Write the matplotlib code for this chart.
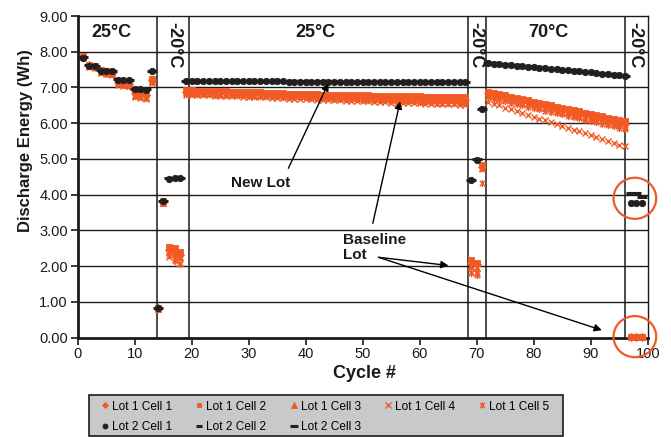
import matplotlib
matplotlib.use('Agg')
import matplotlib.pyplot as plt
from matplotlib.patches import Ellipse, Rectangle
from matplotlib.path import Path
from matplotlib.lines import Line2D
from matplotlib.ticker import FormatStrFormatter

plt.rcParams['font.family'] = ['Liberation Sans', 'DejaVu Sans']

# ---------------- data ----------------
cycles = list(range(1, 100))

# segments: 1-18 | 19-68 (25C) | 69-71 (-20C) | 72-96 (70C) | 97-99 (-20C)
lot1_cell1 = [7.86, 7.62, 7.58, 7.45, 7.42, 7.40, 7.15, 7.12, 7.10, 6.85, 6.80, 6.78, 7.20, 0.82, 3.80, 2.45, 2.40, 2.30,
              6.88, 6.88, 6.87, 6.87, 6.86, 6.86, 6.85, 6.85, 6.84, 6.84,
              6.83, 6.83, 6.82, 6.82, 6.81, 6.81, 6.80, 6.80, 6.79, 6.79,
              6.78, 6.78, 6.77, 6.77, 6.76, 6.76, 6.75, 6.75, 6.74, 6.74,
              6.73, 6.73, 6.72, 6.72, 6.71, 6.71, 6.70, 6.70, 6.69, 6.69,
              6.69, 6.68, 6.68, 6.68, 6.67, 6.67, 6.67, 6.66, 6.66, 6.66,
              2.10, 2.05, 4.78,
              6.84, 6.80, 6.77, 6.73, 6.69, 6.66, 6.62, 6.59, 6.55, 6.51, 6.48, 6.44, 6.41,
              6.37, 6.33, 6.30, 6.26, 6.22, 6.19, 6.15, 6.12, 6.08, 6.04, 6.01, 5.97,
              0.02, 0.02, 0.02]

lot1_cell2 = [7.88, 7.64, 7.60, 7.48, 7.45, 7.43, 7.18, 7.15, 7.13, 6.90, 6.86, 6.84, 7.25, 0.82, 3.82, 2.55, 2.50, 2.40,
              6.92, 6.92, 6.91, 6.91, 6.90, 6.90, 6.89, 6.89, 6.88, 6.88,
              6.87, 6.87, 6.86, 6.86, 6.85, 6.85, 6.84, 6.84, 6.83, 6.83,
              6.82, 6.82, 6.81, 6.81, 6.80, 6.80, 6.80, 6.79, 6.79, 6.79,
              6.78, 6.78, 6.78, 6.77, 6.77, 6.77, 6.76, 6.76, 6.76, 6.75,
              6.75, 6.75, 6.74, 6.74, 6.74, 6.73, 6.73, 6.73, 6.72, 6.72,
              2.18, 2.10, 4.83,
              6.88, 6.85, 6.81, 6.78, 6.74, 6.71, 6.67, 6.64, 6.60, 6.57, 6.53, 6.50, 6.46,
              6.43, 6.40, 6.36, 6.33, 6.29, 6.26, 6.22, 6.19, 6.15, 6.12, 6.08, 6.05,
              0.03, 0.03, 0.03]

lot1_cell3 = [7.85, 7.60, 7.57, 7.44, 7.41, 7.39, 7.12, 7.10, 7.08, 6.80, 6.76, 6.74, 7.18, 0.80, 3.78, 2.40, 2.35, 2.25,
              6.86, 6.86, 6.85, 6.85, 6.84, 6.84, 6.83, 6.83, 6.82, 6.82,
              6.81, 6.81, 6.80, 6.80, 6.79, 6.79, 6.78, 6.78, 6.77, 6.77,
              6.76, 6.76, 6.75, 6.75, 6.74, 6.74, 6.73, 6.73, 6.72, 6.72,
              6.71, 6.71, 6.70, 6.70, 6.69, 6.69, 6.68, 6.68, 6.67, 6.67,
              6.66, 6.66, 6.66, 6.65, 6.65, 6.65, 6.64, 6.64, 6.63, 6.63,
              2.00, 1.95, 4.75,
              6.80, 6.76, 6.73, 6.69, 6.65, 6.61, 6.58, 6.54, 6.50, 6.46, 6.43, 6.39, 6.35,
              6.31, 6.28, 6.24, 6.20, 6.16, 6.13, 6.09, 6.05, 6.01, 5.98, 5.94, 5.90,
              0.01, 0.01, 0.01]

lot1_cell4 = [7.84, 7.58, 7.55, 7.40, 7.38, 7.36, 7.08, 7.05, 7.03, 6.72, 6.70, 6.68, 7.12, 0.80, 3.78, 2.25, 2.20, 2.10,
              6.80, 6.79, 6.79, 6.78, 6.78, 6.77, 6.76, 6.76, 6.75, 6.75,
              6.74, 6.73, 6.73, 6.72, 6.72, 6.71, 6.70, 6.70, 6.69, 6.69,
              6.68, 6.67, 6.67, 6.66, 6.66, 6.65, 6.64, 6.64, 6.63, 6.63,
              6.62, 6.61, 6.61, 6.60, 6.60, 6.59, 6.58, 6.58, 6.57, 6.57,
              6.56, 6.56, 6.55, 6.55, 6.54, 6.54, 6.53, 6.53, 6.52, 6.52,
              1.85, 1.80, 4.72,
              6.60, 6.55, 6.50, 6.44, 6.39, 6.34, 6.29, 6.24, 6.18, 6.13, 6.08, 6.03, 5.98,
              5.92, 5.87, 5.82, 5.77, 5.72, 5.66, 5.61, 5.56, 5.51, 5.46, 5.40, 5.35,
              0.02, 0.02, 0.02]

lot1_cell5 = [7.85, 7.59, 7.56, 7.42, 7.39, 7.37, 7.10, 7.07, 7.05, 6.75, 6.72, 6.70, 7.15, 0.81, 3.80, 2.30, 2.15, 2.05,
              6.83, 6.82, 6.82, 6.81, 6.81, 6.80, 6.80, 6.79, 6.79, 6.78,
              6.78, 6.77, 6.77, 6.76, 6.76, 6.75, 6.75, 6.74, 6.74, 6.73,
              6.73, 6.72, 6.71, 6.71, 6.70, 6.70, 6.69, 6.69, 6.68, 6.67,
              6.67, 6.66, 6.66, 6.65, 6.64, 6.64, 6.63, 6.62, 6.62, 6.61,
              6.61, 6.60, 6.60, 6.59, 6.58, 6.58, 6.57, 6.57, 6.56, 6.56,
              1.80, 1.75, 4.32,
              6.72, 6.68, 6.65, 6.61, 6.57, 6.54, 6.50, 6.46, 6.43, 6.39, 6.35, 6.32, 6.28,
              6.25, 6.21, 6.17, 6.14, 6.10, 6.06, 6.03, 5.99, 5.95, 5.92, 5.88, 5.85,
              0.02, 0.02, 0.02]

lot2_cell1 = [7.83, 7.61, 7.60, 7.47, 7.46, 7.46, 7.22, 7.22, 7.21, 6.95, 6.95, 6.94, 7.45, 0.82, 3.82, 4.45, 4.46, 4.46,
              7.18, 7.18, 7.18, 7.18, 7.18, 7.17, 7.17, 7.17, 7.17, 7.17,
              7.17, 7.17, 7.17, 7.17, 7.17, 7.17, 7.17, 7.17, 7.16, 7.16,
              7.16, 7.16, 7.16, 7.16, 7.16, 7.16, 7.16, 7.16, 7.16, 7.16,
              7.16, 7.16, 7.16, 7.16, 7.16, 7.16, 7.16, 7.15, 7.15, 7.15,
              7.15, 7.15, 7.15, 7.15, 7.15, 7.15, 7.15, 7.15, 7.15, 7.15,
              4.40, 4.98, 6.40,
              7.69, 7.67, 7.66, 7.64, 7.63, 7.61, 7.60, 7.58, 7.57, 7.55, 7.54, 7.52, 7.51,
              7.49, 7.48, 7.46, 7.45, 7.43, 7.42, 7.40, 7.39, 7.37, 7.36, 7.34, 7.33,
              3.77, 3.76, 3.76]

lot2_cell2 = [7.84, 7.62, 7.61, 7.48, 7.47, 7.47, 7.23, 7.23, 7.22, 6.96, 6.96, 6.95, 7.47, 0.83, 3.83, 4.47, 4.48, 4.48,
              7.19, 7.19, 7.19, 7.18, 7.18, 7.18, 7.18, 7.18, 7.18, 7.18,
              7.18, 7.18, 7.18, 7.17, 7.17, 7.17, 7.17, 7.17, 7.17, 7.17,
              7.17, 7.17, 7.17, 7.17, 7.17, 7.17, 7.17, 7.16, 7.16, 7.16,
              7.16, 7.16, 7.16, 7.16, 7.16, 7.16, 7.16, 7.16, 7.16, 7.16,
              7.16, 7.16, 7.16, 7.16, 7.16, 7.16, 7.16, 7.16, 7.16, 7.16,
              4.42, 5.01, 6.42,
              7.70, 7.68, 7.67, 7.65, 7.64, 7.62, 7.61, 7.59, 7.58, 7.56, 7.55, 7.53, 7.52,
              7.50, 7.49, 7.47, 7.46, 7.44, 7.43, 7.41, 7.40, 7.38, 7.37, 7.35, 7.34,
              4.05, 4.03, 3.97]

lot2_cell3 = [7.84, 7.62, 7.61, 7.48, 7.47, 7.46, 7.23, 7.22, 7.22, 6.96, 6.95, 6.95, 7.46, 0.82, 3.83, 4.47, 4.47, 4.48,
              7.18, 7.18, 7.18, 7.18, 7.18, 7.18, 7.18, 7.17, 7.17, 7.17,
              7.17, 7.17, 7.17, 7.17, 7.17, 7.17, 7.17, 7.17, 7.17, 7.17,
              7.17, 7.17, 7.16, 7.16, 7.16, 7.16, 7.16, 7.16, 7.16, 7.16,
              7.16, 7.16, 7.16, 7.16, 7.16, 7.16, 7.16, 7.16, 7.15, 7.15,
              7.15, 7.15, 7.15, 7.15, 7.15, 7.15, 7.15, 7.15, 7.15, 7.15,
              4.41, 5.00, 6.41,
              7.69, 7.68, 7.66, 7.65, 7.63, 7.62, 7.60, 7.59, 7.57, 7.56, 7.54, 7.53, 7.51,
              7.50, 7.48, 7.47, 7.45, 7.44, 7.42, 7.41, 7.39, 7.38, 7.36, 7.35, 7.33,
              4.06, 4.05, 3.95]

series_names = ['Lot 1 Cell 1', 'Lot 1 Cell 2', 'Lot 1 Cell 3', 'Lot 1 Cell 4', 'Lot 1 Cell 5',
                'Lot 2 Cell 1', 'Lot 2 Cell 2', 'Lot 2 Cell 3']
series_values = [lot1_cell1, lot1_cell2, lot1_cell3, lot1_cell4, lot1_cell5,
                 lot2_cell1, lot2_cell2, lot2_cell3]

# section boundaries (cycle #) and labels
section_lines = [13.97, 19.59, 68.55, 71.66, 96.05]
section_labels = ['25°C', '-20°C', '25°C', '-20°C', '70°C', '-20°C']
section_label_x = [5.97, 16.9, 41.65, 69.9, 82.5, 97.8]
section_label_rot = [0, 270, 0, 270, 0, 270]

# ---------------- styles ----------------
ORANGE = '#F15A24'
BLACK = '#231F20'
star = Path([(-1, -1), (1, 1), (-1, 1), (1, -1), (0, -1.35), (0, 1.35)],
            [Path.MOVETO, Path.LINETO, Path.MOVETO, Path.LINETO, Path.MOVETO, Path.LINETO])
styles = [
    dict(marker='D', ms=3.8, color=ORANGE, mew=0.6, lms=3.0),
    dict(marker='s', ms=4.4, color=ORANGE, mew=0.6, lms=3.4),
    dict(marker='^', ms=4.8, color=ORANGE, mew=0.6, lms=3.8),
    dict(marker='x', ms=4.8, color=ORANGE, mew=1.0, lms=5.0),
    dict(marker=star, ms=5.2, color=ORANGE, mew=1.0, lms=4.4),
    dict(marker='o', ms=4.6, color=BLACK, mew=0.6, lms=3.6),
    dict(marker='_', ms=5.0, color=BLACK, mew=2.2, lms=4.0),
    dict(marker='_', ms=7.5, color=BLACK, mew=2.2, lms=6.0),
]

fig = plt.figure(figsize=(6.71, 4.37), dpi=100)
ax = fig.add_axes([77.7 / 671, 1 - 337.7 / 437, 570 / 671, 321.7 / 437])
ax.set_xlim(0, 100)
ax.set_ylim(0, 9)

for yv in range(1, 9):
    ax.axhline(yv, color='#1a1a1a', lw=1.0, zorder=1)
for xv in section_lines:
    ax.axvline(xv, color='#1a1a1a', lw=1.1, zorder=1)

handles = []
for name, vals, st in zip(series_names, series_values, styles):
    n = min(len(cycles), len(vals))
    ax.plot(cycles[:n], vals[:n], linestyle='none', marker=st['marker'], ms=st['ms'],
            color=st['color'], mec=st['color'], mfc=st['color'], mew=st['mew'],
            clip_on=False, zorder=3)
    handles.append(Line2D([], [], linestyle='none', marker=st['marker'], ms=st['lms'],
                          color=st['color'], mec=st['color'], mfc=st['color'], mew=st['mew'],
                          label=name))

ax.set_xticks(range(0, 101, 10))
ax.set_yticks(range(0, 10))
ax.yaxis.set_major_formatter(FormatStrFormatter('%.2f'))
ax.tick_params(direction='out', length=5, width=1.2, labelsize=10.5, pad=2, colors='#1a1a1a')
for side in ['left', 'bottom']:
    ax.spines[side].set_linewidth(2.0)
for side in ['top', 'right']:
    ax.spines[side].set_linewidth(1.0)
for s in ax.spines.values():
    s.set_color('#1a1a1a')

ax.set_ylabel('Discharge Energy (Wh)', fontsize=12, fontweight='bold', color='#1a1a1a')
ax.yaxis.set_label_coords(-0.078, 0.613)
ax.set_xlabel('Cycle #', fontsize=13, fontweight='bold', color='#1a1a1a')
ax.xaxis.set_label_coords(0.503, -0.086)

for lab, xv, rot in zip(section_labels, section_label_x, section_label_rot):
    yv = 8.53 if rot == 0 else 8.18
    ax.text(xv, yv, lab, rotation=rot, ha='center', va='center', fontsize=13,
            fontweight='bold', color='#1a1a1a')

arrow = dict(arrowstyle='-|>', color='black', lw=1.0, mutation_scale=11, shrinkA=0, shrinkB=0)
ax.text(32.05, 4.34, 'New Lot', ha='center', va='center', fontsize=11, fontweight='bold', color='#1a1a1a')
ax.annotate('', xy=(43.98, 7.12), xytext=(36.96, 4.74), arrowprops=arrow)
ax.text(46.56, 2.52, 'Baseline\nLot', ha='left', va='center', fontsize=11, fontweight='bold',
        linespacing=1.15, color='#1a1a1a')
ax.annotate('', xy=(56.56, 6.61), xytext=(51.77, 3.2), arrowprops=arrow)
ax.annotate('', xy=(65.04, 2.02), xytext=(52.76, 2.25), arrowprops=arrow)
ax.annotate('', xy=(91.96, 0.21), xytext=(52.76, 2.25), arrowprops=arrow)

for cy in [3.9, 0.03]:
    ax.add_patch(Ellipse((97.75, cy), 7.49, 1.15, fill=False, edgecolor='#EE5A2A', lw=1.6,
                         clip_on=False, zorder=4))

# legend box (drawn separately) + legend entries
fig.add_artist(Rectangle((89 / 671, 0.8 / 437), 474 / 671, 41.5 / 437, transform=fig.transFigure,
                         facecolor='#C8C9CB', edgecolor='#1a1a1a', linewidth=1.2, zorder=1))
order = [0, 5, 1, 6, 2, 7, 3, 4]
leg = fig.legend([handles[i] for i in order], [series_names[i] for i in order],
                 ncol=5, loc='upper left',
                 bbox_to_anchor=(100.2 / 671, (437 - 400.5) / 437),
                 fontsize=8.6, frameon=False, borderaxespad=0, borderpad=0,
                 handlelength=0.8, handletextpad=0.2, labelspacing=0.72,
                 columnspacing=1.86)
leg.set_zorder(2)

fig.savefig('out.png', dpi=100)
